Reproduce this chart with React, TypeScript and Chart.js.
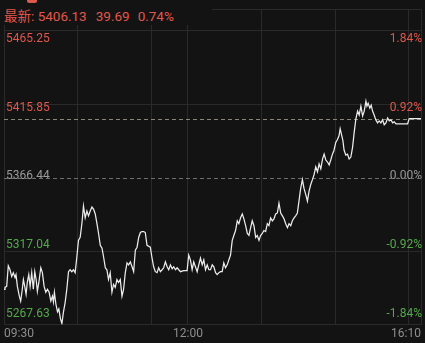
import { useEffect, useRef } from 'react';
import { Chart, registerables } from 'chart.js';

Chart.register(...registerables);

// minutes since 09:30 (trading minutes, lunch break removed)
const times = [
  0, 0.8, 2.2, 3.5, 4.9, 6.3, 7.6, 9, 9.8, 10.9,
  12.5, 13.6, 14.7, 15.8, 16.9, 18, 19, 20.2, 21.3, 22.6,
  23.9, 25.1, 26.2, 27.2, 28.4, 30, 31.3, 32.7, 34.1, 35.4,
  36.8, 38.2, 39.5, 40.3, 41.1, 42.3, 43.6, 44.7, 46, 47.2,
  48.5, 49.9, 51.2, 52.6, 53.9, 55.3, 56.6, 58, 59.4, 60.7,
  62.1, 63.5, 64.8, 66.2, 67.6, 68.9, 70.3, 71.7, 73, 74.4,
  75.8, 77.1, 78.5, 79.9, 81.2, 82.6, 83.9, 85.2, 86.6, 88,
  89.3, 90.7, 92.1, 93.4, 94.8, 96.2, 97.5, 98.9, 100.3, 101.6,
  103, 104.4, 105.7, 107.1, 108.5, 109.8, 111.2, 112.5, 113.9, 115.2,
  116.6, 119.3, 120.7, 122, 123.4, 124.8, 126.1, 127.5, 128.9, 130.2,
  131.6, 133, 134.3, 135.7, 137.1, 138.4, 139.8, 141.2, 142.5, 143.9,
  146.5, 149.3, 150.6, 152, 153.4, 154.7, 156.1, 157.5, 158.8, 160.2,
  161.6, 162.9, 164.3, 165.7, 167, 168.4, 169.8, 171.1, 172.5, 173.8,
  175.2, 176.5, 177.9, 179.2, 180.6, 182, 183.3, 184.7, 186.1, 187.4,
  188.8, 190.2, 191.5, 192.9, 194.3, 195.6, 197, 198.4, 199.7, 201.1,
  202.4, 203.8, 205.2, 206.5, 207.9, 209.2, 210.6, 211.9, 213.3, 214.7,
  216, 217.4, 218.8, 220.1, 221.5, 222.9, 224.2, 225.6, 227, 228.3,
  229.7, 231.1, 232.4, 233.8, 235.1, 236.5, 237.8, 239.2, 240.5, 241.9,
  243.3, 244.6, 246, 247.4, 248.7, 250.1, 251.5, 252.8, 254.2, 255.6,
  256.9, 258.3, 259.7, 261, 262.4, 263.8, 265.1, 266.4, 267.8, 269.1,
  270.5, 271.9, 273.2, 274.1, 275.2, 276.3, 277.3, 278.7, 280.1, 281.4,
  282.8, 284.2, 285.5, 286.9, 288.3, 289.6, 291, 292.4, 293.7, 295.1,
  295.9, 296.9, 298.3, 299.4, 300.5, 301.8, 303.2, 304.6, 305.9, 307.3,
  308.7, 310, 311.4, 312.8, 314.1, 315.5, 316.9, 318.2, 319.6, 322.3,
  326.4, 329.1, 330.4, 333.2, 340,
];

const prices = [
  5291.36, 5292.67, 5293.33, 5307.16, 5304.53, 5299.92, 5302.55, 5299.26, 5301.23, 5293.33,
  5286.75, 5283.45, 5290.04, 5297.94, 5293.33, 5288.06, 5295.97, 5301.23, 5293.33, 5302.55,
  5291.36, 5303.21, 5297.94, 5290.04, 5295.97, 5305.84, 5302.55, 5293.33, 5289.38, 5291.36,
  5289.38, 5283.45, 5286.75, 5282.79, 5289.38, 5281.48, 5276.21, 5278.18, 5271.6, 5268.29,
  5276.21, 5282.79, 5291.36, 5303.21, 5304.53, 5303.21, 5304.53, 5302.55, 5313.09, 5324.28,
  5326.26, 5335.48, 5347.33, 5339.43, 5344.04, 5340.75, 5344.04, 5346.68, 5345.36, 5342.06,
  5335.48, 5328.89, 5320.99, 5319.01, 5313.09, 5305.84, 5304.53, 5297.94, 5302.55, 5289.38,
  5294.64, 5292.67, 5297.94, 5295.97, 5297.94, 5286.75, 5291.36, 5302.55, 5309.14, 5307.82,
  5309.79, 5306.5, 5303.21, 5317.7, 5319.67, 5326.26, 5329.55, 5330.21, 5330.21, 5329.55,
  5320.99, 5319.67, 5312.43, 5306.5, 5303.21, 5302.55, 5305.84, 5303.21, 5304.53, 5305.84,
  5309.79, 5306.5, 5304.53, 5307.82, 5305.18, 5306.5, 5304.53, 5305.84, 5304.53, 5303.21,
  5303.87, 5303.87, 5314.4, 5311.11, 5304.53, 5309.79, 5306.5, 5303.21, 5307.82, 5312.43,
  5307.82, 5311.11, 5304.53, 5307.82, 5304.53, 5304.53, 5307.82, 5306.5, 5302.55, 5301.23,
  5302.55, 5303.21, 5303.21, 5309.14, 5305.84, 5307.82, 5311.11, 5314.4, 5324.28, 5327.57,
  5330.87, 5337.45, 5335.48, 5339.43, 5342.06, 5338.77, 5334.16, 5328.89, 5327.57, 5332.84,
  5337.45, 5334.16, 5326.26, 5327.57, 5324.28, 5327.57, 5328.89, 5330.87, 5330.21, 5335.48,
  5334.16, 5339.43, 5337.45, 5338.77, 5342.06, 5342.72, 5349.31, 5342.72, 5340.75, 5338.77,
  5335.48, 5332.84, 5335.48, 5334.16, 5337.45, 5339.43, 5340.75, 5342.72, 5350.63, 5359.19,
  5365.12, 5359.19, 5355.24, 5350.63, 5357.22, 5361.83, 5365.12, 5368.42, 5373.69, 5370.4,
  5375.67, 5372.37, 5378.96, 5382.25, 5378.3, 5376.98, 5375.01, 5378.3, 5382.25, 5384.89,
  5390.16, 5392.13, 5394.77, 5399.38, 5395.42, 5391.47, 5384.89, 5381.59, 5382.25, 5378.96,
  5380.28, 5386.86, 5396.74, 5405.96, 5411.23, 5408.6, 5414.53, 5407.94, 5411.23, 5417.83,
  5414.53, 5416.51, 5413.21, 5415.19, 5411.23, 5408.6, 5405.31, 5403.33, 5404.65, 5403.33,
  5405.31, 5402.01, 5403.33, 5406.62, 5404.65, 5405.31, 5403.33, 5403.99, 5402.67, 5402.67,
  5402.67, 5402.67, 5406.13, 5406.13, 5406.13,
];

const priceTicks = [5267.63, 5317.04, 5366.44, 5415.85, 5465.25];
const pctTicks = [-1.84, -0.92, 0, 0.92, 1.84];
const timeTicks = [0, 60, 120, 150, 210, 270, 330, 340];
const timeLabels: Record<number, string> = { 0: '09:30', 150: '12:00', 340: '16:10' };

const prevClose = 5366.44;
const latest = 5406.13;
const change = 39.69;
const changePct = 0.74;

const RED = '#e0574c';
const GREEN = '#55a94b';
const NEUTRAL = '#9a9a9a';
const GRID = '#2a2a2a';
const BG = '#131313';

const refLines = {
  id: 'refLines',
  beforeDatasetsDraw(chart: any) {
    const { ctx, chartArea, scales } = chart;
    const lines: [number, string][] = [
      [prevClose, '#6e6e6e'],
      [latest, '#8a8578'],
    ];
    ctx.save();
    ctx.lineWidth = 1;
    ctx.setLineDash([4, 3]);
    for (const [v, c] of lines) {
      const y = Math.round(scales.y.getPixelForValue(v)) + 0.5;
      ctx.strokeStyle = c;
      ctx.beginPath();
      ctx.moveTo(chartArea.left, y);
      ctx.lineTo(chartArea.right, y);
      ctx.stroke();
    }
    ctx.restore();
  },
};

const colorFor = (v: number, mid: number) => (Math.abs(v - mid) < 1e-6 ? NEUTRAL : v > mid ? RED : GREEN);

export default function App() {
  const ref = useRef<HTMLCanvasElement>(null);

  useEffect(() => {
    Chart.defaults.font.family = 'Roboto, "Noto Sans", sans-serif';
    const data = times.map((t, i) => ({ x: t, y: prices[i] }));
    const chart = new Chart(ref.current!, {
      type: 'line',
      data: {
        datasets: [
          {
            data,
            borderColor: '#ececec',
            borderWidth: 1.25,
            pointRadius: 0,
            tension: 0,
            xAxisID: 'x',
            yAxisID: 'y',
          },
        ],
      },
      options: {
        animation: false,
        responsive: false,
        devicePixelRatio: 1,
        layout: { padding: { left: 0, right: 2, top: 4, bottom: 0 } },
        plugins: { legend: { display: false }, tooltip: { enabled: false } },
        scales: {
          x: {
            type: 'linear',
            min: 0,
            max: 340,
            afterBuildTicks: (a: any) => {
              a.ticks = timeTicks.map((v) => ({ value: v }));
            },
            ticks: {
              color: '#8e8e8e',
              padding: 2,
              align: 'inner',
              autoSkip: false,
              maxRotation: 0,
              font: { size: 12 },
              callback: (v: any) => timeLabels[v as number] ?? '',
            },
            grid: { color: GRID, drawTicks: false },
            border: { display: false },
          },
          y: {
            type: 'linear',
            position: 'left',
            min: 5267.63,
            max: 5479.74,
            afterBuildTicks: (a: any) => {
              a.ticks = [...priceTicks, 5479.74].map((v) => ({ value: v }));
            },
            ticks: { display: false },
            grid: {
              drawTicks: false,
              color: (c: any) => (c.tick && Math.abs(c.tick.value - prevClose) < 1e-6 ? 'rgba(0,0,0,0)' : GRID),
            },
            border: { display: false },
          },
          yl: {
            type: 'linear',
            position: 'left',
            min: 5259.88,
            max: 5486.74,
            afterBuildTicks: (a: any) => {
              a.ticks = priceTicks.map((v) => ({ value: v }));
            },
            ticks: {
              mirror: true,
              padding: 2,
              font: { size: 12 },
              color: (c: any) => colorFor(c.tick.value, prevClose),
              callback: (v: any) => Number(v).toFixed(2),
            },
            grid: { display: false, drawTicks: false },
            border: { display: false },
          },
          yr: {
            type: 'linear',
            position: 'right',
            min: -1.9843,
            max: 2.2401,
            afterBuildTicks: (a: any) => {
              a.ticks = pctTicks.map((v) => ({ value: v }));
            },
            ticks: {
              mirror: true,
              padding: 1,
              font: { size: 12 },
              color: (c: any) => colorFor(c.tick.value, 0),
              callback: (v: any) => Number(v).toFixed(2) + '%',
            },
            grid: { display: false, drawTicks: false },
            border: { display: false },
          },
        },
      } as any,
      plugins: [refLines],
    });
    return () => chart.destroy();
  }, []);

  return (
    <div
      style={{
        position: 'absolute',
        left: 0,
        top: 0,
        width: 425,
        height: 343,
        background: BG,
        overflow: 'hidden',
      }}
    >
      <canvas ref={ref} width={425} height={343} style={{ position: 'absolute', left: 0, top: 0 }} />
      <div style={{ position: 'absolute', left: 0, top: 0, width: 212, height: 25, background: BG }} />
      <div
        style={{
          position: 'absolute',
          left: 27,
          top: 0,
          width: 10,
          height: 3,
          background: RED,
          borderRadius: '0 0 2px 2px',
        }}
      />
      <div
        style={{
          position: 'absolute',
          left: 4,
          top: 8,
          lineHeight: '16px',
          fontSize: 13.5,
          color: RED,
          whiteSpace: 'nowrap',
          fontFamily: 'Roboto, "Noto Sans CJK SC", sans-serif',
        }}
      >
        <span>最新: {latest.toFixed(2)}</span>
        <span style={{ marginLeft: 9 }}>{change.toFixed(2)}</span>
        <span style={{ marginLeft: 8 }}>{changePct.toFixed(2)}%</span>
      </div>
    </div>
  );
}
